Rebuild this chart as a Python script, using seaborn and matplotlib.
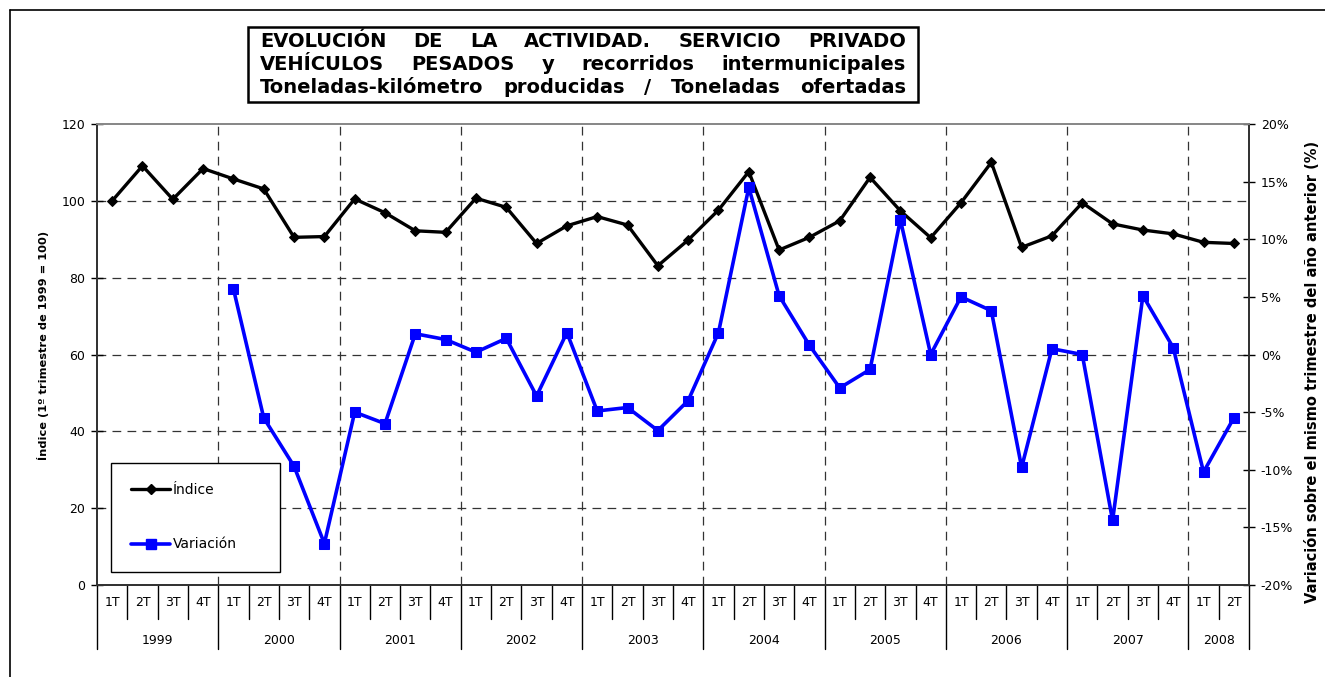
import numpy as np
import pandas as pd
import matplotlib
matplotlib.use("Agg")
import matplotlib.pyplot as plt
import seaborn as sns
from matplotlib import transforms
from matplotlib.lines import Line2D
from matplotlib.patches import Rectangle

# ---------------- data ----------------
years = ["1999", "2000", "2001", "2002", "2003", "2004", "2005", "2006", "2007", "2008"]
quarters = ["1T", "2T", "3T", "4T"]
n_quarters_per_year = [4, 4, 4, 4, 4, 4, 4, 4, 4, 2]

indice = [100.0, 109.1, 100.4, 108.4,
          105.7, 103.1, 90.5, 90.7,
          100.5, 96.9, 92.2, 91.8,
          100.7, 98.3, 88.9, 93.5,
          95.9, 93.7, 83.1, 89.8,
          97.6, 107.6, 87.2, 90.5,
          94.8, 106.1, 97.4, 90.4,
          99.5, 110.0, 87.9, 90.9,
          99.5, 94.0, 92.4, 91.4,
          89.2, 88.9]

variacion = [np.nan, np.nan, np.nan, np.nan,
             5.7, -5.5, -9.7, -16.4,
             -5.0, -6.0, 1.8, 1.3,
             0.2, 1.4, -3.6, 1.9,
             -4.9, -4.6, -6.6, -4.0,
             1.9, 14.5, 5.1, 0.8,
             -2.9, -1.3, 11.7, 0.0,
             5.0, 3.8, -9.8, 0.5,
             0.0, -14.4, 5.1, 0.6,
             -10.2, -5.5]

left_ticks = [0, 20, 40, 60, 80, 100, 120]
right_ticks = [-20, -15, -10, -5, 0, 5, 10, 15, 20]

title_lines = ["EVOLUCIÓN DE LA ACTIVIDAD. SERVICIO PRIVADO",
               "VEHÍCULOS PESADOS y recorridos intermunicipales",
               "Toneladas-kilómetro producidas / Toneladas ofertadas"]

q_labels = []
y_labels = []
for y, n in zip(years, n_quarters_per_year):
    for q in quarters[:n]:
        q_labels.append(q)
        y_labels.append(y)

df = pd.DataFrame({"pos": np.arange(len(indice)), "indice": indice,
                   "variacion": variacion, "trim": q_labels, "anio": y_labels})

# ---------------- style ----------------
sns.set_theme(style="white", rc={"text.color": "black", "axes.labelcolor": "black",
                                 "xtick.color": "black", "ytick.color": "black"})
plt.rcParams["font.family"] = ["DejaVu Sans"]

W, H = 1325, 677
fig = plt.figure(figsize=(W / 100, H / 100), dpi=100)
x0, x1, ytop, ybot = 97, 1249, 124, 585
ax = fig.add_axes([x0 / W, 1 - ybot / H, (x1 - x0) / W, (ybot - ytop) / H])
ax2 = ax.twinx()

# gridlines
dash = (0, (7, 5))
for v in left_ticks[1:-1]:
    ax.axhline(v, color="#333333", lw=0.9, ls=dash, zorder=0)
boundaries = np.cumsum(n_quarters_per_year)[:-1] - 0.5
for b in boundaries:
    ax.axvline(b, color="#333333", lw=0.9, ls=dash, zorder=0)

sns.lineplot(data=df, x="pos", y="indice", ax=ax, color="black", lw=2.4,
             marker="D", markersize=5, markeredgecolor="black", zorder=3)
sns.lineplot(data=df.dropna(), x="pos", y="variacion", ax=ax2, color="#0000FF", lw=2.6,
             marker="s", markersize=7, markeredgecolor="#0000FF", zorder=3)

n = len(indice)
ax.set_xlim(-0.5, n - 0.5)
ax.set_ylim(0, 120)
ax2.set_ylim(-20, 20)
ax.set_xticks([])
ax2.set_xticks([])
ax.set_xlabel("")
ax2.set_xlabel("")
ax.set_yticks(left_ticks)
ax.set_yticklabels([str(v) for v in left_ticks], fontsize=9)
ax2.set_yticks(right_ticks)
ax2.set_yticklabels([f"{v}%" for v in right_ticks], fontsize=9)
ax.tick_params(axis="y", direction="inout", length=9, width=1, color="black", pad=4, left=True)
ax2.tick_params(axis="y", direction="inout", length=9, width=1, color="black", pad=4, right=True)

for a in (ax, ax2):
    for s in ("left", "right", "bottom"):
        a.spines[s].set_color("#333333")
        a.spines[s].set_linewidth(1.3)
    a.spines["top"].set_color("#888888")
    a.spines["top"].set_linewidth(1.3)

ax.set_ylabel("Índice (1º trimestre de 1999 = 100)", fontsize=8.2, fontweight="bold")
ax.yaxis.set_label_coords((49 - x0) / (x1 - x0), (ybot - 345) / (ybot - ytop))
ax2.set_ylabel("Variación sobre el mismo trimestre del año anterior (%)", fontsize=10.5, fontweight="bold")
ax2.yaxis.set_label_coords((1305 - x0) / (x1 - x0), (ybot - 372) / (ybot - ytop))

# multi-level category axis
trans = transforms.blended_transform_factory(ax.transData, ax.transAxes)
ah = ybot - ytop
q_sep_y = -(619 - ybot) / ah
y_sep_y = -(649 - ybot) / ah
year_starts = np.concatenate([[0], np.cumsum(n_quarters_per_year)]) - 0.5
for i in range(n + 1):
    xb = i - 0.5
    long = np.any(np.isclose(year_starts, xb))
    ax.add_line(Line2D([xb, xb], [0, y_sep_y if long else q_sep_y], transform=trans,
                       color="black", lw=1, clip_on=False))
for i, q in enumerate(df["trim"]):
    ax.text(i, -(603 - ybot) / ah, q, transform=trans, ha="center", va="center", fontsize=9)
for k, yname in enumerate(years):
    c = (year_starts[k] + year_starts[k + 1]) / 2
    ax.text(c, -(640 - ybot) / ah, yname, transform=trans, ha="center", va="center", fontsize=9)

# legend
handles = [Line2D([], [], color="black", lw=2.4, marker="D", markersize=5),
           Line2D([], [], color="#0000FF", lw=2.6, marker="s", markersize=7)]
leg = ax2.legend(handles, ["Índice", "Variación"], loc="upper left",
                 bbox_to_anchor=(111 / W, 1 - 572 / H, 169 / W, 109 / H),
                 bbox_transform=fig.transFigure, mode="expand",
                 fontsize=10, frameon=True, fancybox=False, edgecolor="black",
                 labelspacing=2.9, handlelength=2.8, handletextpad=0.2,
                 borderpad=1.45, borderaxespad=0)
leg.get_frame().set_linewidth(1.0)
leg.get_frame().set_alpha(1)

# title box (justified lines)
fig.add_artist(Rectangle((248 / W, 1 - 102 / H), 670 / W, 75 / H, transform=fig.transFigure,
                         fc="white", ec="black", lw=1.8, zorder=5))
fig.canvas.draw()
renderer = fig.canvas.get_renderer()
left_px, right_px = 260, 906
for line, yb in zip(title_lines, [47, 70, 93]):
    words = line.split()
    texts = [fig.text(0, 1 - yb / H, w, fontsize=14, fontweight="bold",
                      ha="left", va="baseline", zorder=6) for w in words]
    widths = [t.get_window_extent(renderer).width for t in texts]
    gap = (right_px - left_px - sum(widths)) / (len(words) - 1)
    xpos = left_px
    for t, wd in zip(texts, widths):
        t.set_x(xpos / W)
        xpos += wd + gap

# outer border (left and top)
fig.add_artist(Line2D([10 / W, 10 / W], [0, 1 - 10 / H], transform=fig.transFigure, color="black", lw=1.2))
fig.add_artist(Line2D([10 / W, 1], [1 - 10 / H, 1 - 10 / H], transform=fig.transFigure, color="black", lw=1.2))

fig.savefig("out.png", dpi=100, facecolor="white")
